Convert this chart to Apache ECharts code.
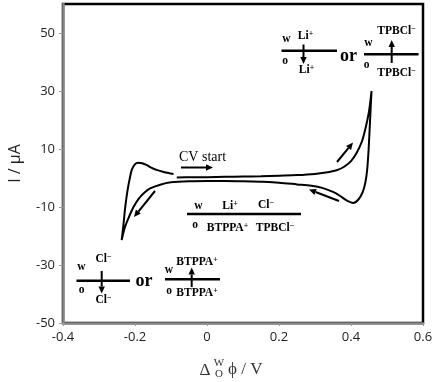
<!DOCTYPE html>
<html>
<head>
<meta charset="utf-8">
<script src="https://cdn.jsdelivr.net/npm/echarts@6/dist/echarts.min.js"></script>
<style>
  html, body { margin: 0; padding: 0; background: #fff; }
  #main { width: 433px; height: 382px; }
</style>
</head>
<body>
<div id="main"></div>
<script>
// potential (V) and current (uA) along the scan, in scan order
const potential = [
  -0.084, -0.04, 0, 0.05, 0.1, 0.15, 0.2, 0.25, 0.3, 0.33, 0.36, 0.38, 0.40, 0.415, 0.43, 0.44, 0.45, 0.457,
  0.453, 0.449, 0.445, 0.44, 0.432, 0.42, 0.406, 0.39, 0.37, 0.35, 0.32, 0.29, 0.25, 0.2, 0.15, 0.1, 0.05, 0,
  -0.05, -0.1, -0.13, -0.158, -0.175, -0.19, -0.205, -0.218, -0.228, -0.237,
  -0.232, -0.228, -0.224, -0.219, -0.214, -0.209, -0.2, -0.191, -0.18, -0.168, -0.155, -0.14, -0.12, -0.093
];
const current = [
  0.2, 0.25, 0.3, 0.4, 0.5, 0.6, 0.8, 1.0, 1.4, 1.9, 2.7, 3.8, 5.8, 8.5, 12.5, 17, 23, 30,
  20, 10, 3, -1.5, -5, -7.5, -8.6, -7.9, -6.2, -4.8, -3.4, -2.7, -2.2, -1.6, -1.3, -1.1, -1.0, -1.0,
  -1.1, -1.5, -2.3, -3.6, -5.2, -7.2, -10.2, -13.8, -17, -21.4,
  -16, -11, -7, -3, 0.2, 2.8, 4.8, 5.3, 5.1, 4.5, 3.6, 2.8, 2.1, 1.4
];
const xTicks = { min: -0.4, max: 0.6, step: 0.2 };
const yTicks = { min: -50, max: 60, step: 20 };

const scan = potential.map((v, i) => [v, current[i]]);

const serif = '"Liberation Serif", "Times New Roman", serif';

function arrow(x1, y1, x2, y2) {
  const a = Math.atan2(y2 - y1, x2 - x1);
  const L = 7, W = 3.2;
  const bx = x2 - L * Math.cos(a), by = y2 - L * Math.sin(a);
  const px = -Math.sin(a) * W, py = Math.cos(a) * W;
  return [
    { type: 'line', shape: { x1: x1, y1: y1, x2: bx, y2: by }, style: { stroke: '#000', lineWidth: 2 } },
    { type: 'polygon', shape: { points: [[x2, y2], [bx + px, by + py], [bx - px, by - py]] }, style: { fill: '#000' } }
  ];
}

function bar(x1, x2, y) {
  return { type: 'line', shape: { x1: x1, y1: y, x2: x2, y2: y }, style: { stroke: '#000', lineWidth: 2.5 } };
}

const richIon = {
  n: { fontFamily: serif, fontWeight: 'bold', fontSize: 11.5, lineHeight: 13, fill: '#000' },
  s: { fontFamily: serif, fontWeight: 'bold', fontSize: 8, lineHeight: 13, verticalAlign: 'top', fill: '#000' }
};

function label(txt, x, y, size) {
  return {
    type: 'text',
    style: {
      text: txt, x: x, y: y, align: 'center', verticalAlign: 'middle',
      textAlign: 'center', textVerticalAlign: 'middle',
      font: 'bold ' + (size || 11.5) + 'px ' + serif, fill: '#000', rich: richIon
    }
  };
}

function ion(name, sign) {
  return '{n|' + name + '}{s|' + sign + '}';
}

const graphics = [].concat(
  // CV start
  [{ type: 'text', style: { text: 'CV start', x: 179, y: 157, align: 'left', verticalAlign: 'middle',
      textAlign: 'left', textVerticalAlign: 'middle', font: '14px ' + serif, fill: '#000' } }],
  arrow(181, 167.5, 213, 167.5),
  arrow(155, 191, 134, 217),
  arrow(337, 162, 353, 142.5),
  arrow(339, 201, 309, 189.5),
  // central interface
  [bar(187, 301, 214),
   label('w', 198.5, 206), label(ion('Li', '+'), 230, 206), label(ion('Cl', '−'), 266, 205),
   label('o', 195, 225), label(ion('BTPPA', '+'), 227.5, 228.5), label(ion('TPBCl', '−'), 275, 228.5)],
  // top right schematic
  [bar(281.5, 337, 50.7), label('w', 286.5, 39.5), label(ion('Li', '+'), 305.5, 36.5),
   label('o', 285, 61.5), label(ion('Li', '+'), 306.5, 70.5),
   label('or', 348.5, 56, 18),
   bar(364, 418.5, 54.3), label('w', 368.5, 43.5), label(ion('TPBCl', '−'), 396.5, 31.5),
   label('o', 366.5, 65.5), label(ion('TPBCl', '−'), 396.5, 73.5)],
  arrow(303.5, 44.5, 303.5, 64),
  arrow(391.7, 63, 391.7, 40),
  // bottom left schematic
  [bar(76.5, 130, 280.7), label('w', 81.5, 267), label(ion('Cl', '−'), 103.5, 259.5),
   label('o', 81.5, 290), label(ion('Cl', '−'), 103.5, 300.5),
   label('or', 144, 281.5, 18),
   bar(165, 220, 279.3), label('w', 169, 270), label(ion('BTPPA', '+'), 197, 262.5),
   label('o', 169, 291.5), label(ion('BTPPA', '+'), 197, 293.5)],
  arrow(101.7, 271, 101.7, 293.5),
  arrow(191.7, 287, 191.7, 267.5),
  // x axis name
  [{ type: 'text', style: { text: 'Δ', x: 205, y: 371, align: 'center', verticalAlign: 'middle',
      textAlign: 'center', textVerticalAlign: 'middle', font: '17px ' + serif, fill: '#333' } },
   { type: 'text', style: { text: 'W', x: 219, y: 363, align: 'center', verticalAlign: 'middle',
      textAlign: 'center', textVerticalAlign: 'middle', font: '11px ' + serif, fill: '#333' } },
   { type: 'text', style: { text: 'O', x: 219, y: 374.5, align: 'center', verticalAlign: 'middle',
      textAlign: 'center', textVerticalAlign: 'middle', font: '11px ' + serif, fill: '#333' } },
   { type: 'text', style: { text: 'ϕ / V', x: 228, y: 370, align: 'left', verticalAlign: 'middle',
      textAlign: 'left', textVerticalAlign: 'middle', font: '17px ' + serif, fill: '#333' } }]
);

const chart = echarts.init(document.getElementById('main'), null, { renderer: 'canvas' });

const option = {
  animation: false,
  grid: {
    left: 63, right: 10, top: 4, bottom: 59,
    outerBoundsMode: 'none', containLabel: false,
    show: true, borderColor: '#000', borderWidth: 2.5
  },
  xAxis: {
    type: 'value',
    min: xTicks.min, max: xTicks.max, interval: xTicks.step,
    axisLine: { show: true, onZero: false, lineStyle: { color: '#888', width: 2.5 } },
    axisTick: { show: true, length: 3, lineStyle: { color: '#999' } },
    axisLabel: { color: '#222', fontFamily: '"Open Sans", sans-serif', fontSize: 13, margin: 8,
      formatter: v => String(Math.round(v * 10) / 10) },
    splitLine: { show: false }
  },
  yAxis: {
    type: 'value',
    min: yTicks.min, max: yTicks.max, interval: yTicks.step,
    name: 'I / µA', nameLocation: 'middle', nameGap: 40, nameRotate: 90,
    nameTextStyle: { color: '#222', fontFamily: '"Open Sans", sans-serif', fontSize: 16 },
    axisLine: { show: true, onZero: false, lineStyle: { color: '#888', width: 2.5 } },
    axisTick: { show: true, length: 4, lineStyle: { color: '#999' } },
    axisLabel: { color: '#222', fontFamily: '"Open Sans", sans-serif', fontSize: 13, margin: 8,
      showMaxLabel: false },
    splitLine: { show: false }
  },
  series: [{
    type: 'line',
    data: scan,
    smooth: 0.3,
    showSymbol: false,
    lineStyle: { color: '#000', width: 2 }
  }],
  graphic: graphics
};

chart.setOption(option);
</script>
</body>
</html>
